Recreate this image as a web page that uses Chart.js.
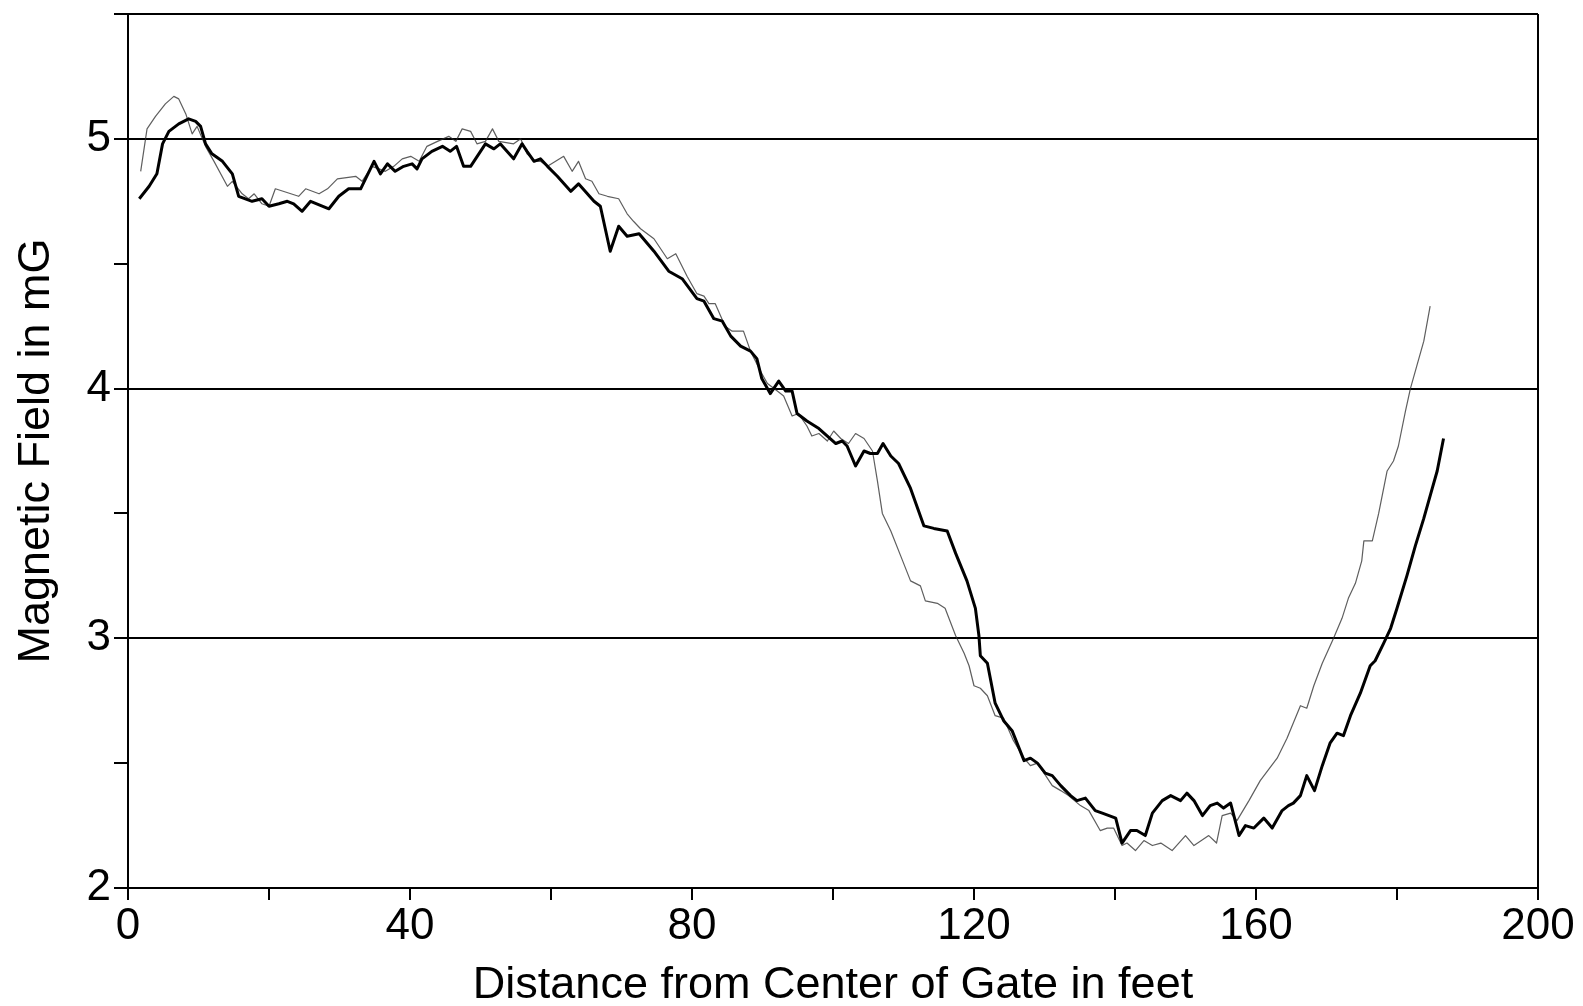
<!DOCTYPE html>
<html>
<head>
<meta charset="utf-8">
<title>Magnetic Field vs Distance from Gate</title>
<script src="https://cdn.jsdelivr.net/npm/chart.js@4.4.1/dist/chart.umd.min.js"></script>
<style>
  html, body { margin: 0; padding: 0; background: #fff; }
  #wrap { width: 1583px; height: 1006px; position: relative; }
</style>
</head>
<body>
<div id="wrap"><canvas id="chart"></canvas></div>
<script>
// Survey A (heavy trace): distance in feet and field in mG
const surveyAFeet = [
  1.6, 3.0, 4.1, 4.9, 5.8, 7.2, 8.6, 9.6, 10.3, 11.0, 11.9, 13.4, 14.8, 15.7, 17.6, 19.0, 20.0, 21.4, 22.6, 23.5,
  24.7, 25.9, 28.5, 29.9, 31.3, 33.0, 34.9, 35.8, 36.8, 37.9, 39.1, 40.3, 41.0, 41.7, 43.1, 44.6, 45.7, 46.6, 47.6, 48.6,
  50.7, 51.9, 52.8, 54.7, 55.9, 56.6, 57.6, 58.5, 59.5, 60.9, 62.8, 63.9, 66.1, 67.0, 68.4, 69.6, 70.8, 72.5, 74.6, 76.7,
  78.6, 80.7, 81.7, 83.1, 84.3, 85.5, 86.9, 88.3, 89.2, 89.9, 91.1, 92.3, 93.3, 94.2, 94.9, 96.3, 98.0, 99.2, 100.4, 101.3,
  102.0, 103.2, 104.4, 105.3, 106.3, 107.1, 108.2, 109.3, 111.0, 112.9, 114.3, 116.2, 117.4, 119.0, 120.2, 120.7, 120.9, 121.9, 123.0, 124.2,
  125.4, 127.1, 128.0, 129.0, 130.1, 131.1, 132.3, 133.7, 134.6, 135.8, 137.2, 138.2, 140.1, 141.0, 142.2, 143.1, 144.3, 145.3, 146.7, 147.9,
  149.3, 150.2, 151.2, 152.4, 153.5, 154.5, 155.4, 156.4, 157.6, 158.5, 159.7, 161.1, 162.3, 163.7, 164.6, 165.3, 166.3, 167.2, 168.3, 169.4,
  170.5, 171.5, 172.4, 173.4, 174.8, 176.2, 176.9, 178.1, 179.1, 180.0, 181.4, 182.6, 183.8, 185.0, 185.7, 186.6
];
const surveyAField = [
  4.76, 4.81, 4.86, 4.98, 5.03, 5.06, 5.08, 5.07, 5.05, 4.98, 4.94, 4.91, 4.86, 4.77, 4.75, 4.76, 4.73, 4.74, 4.75, 4.74,
  4.71, 4.75, 4.72, 4.77, 4.80, 4.80, 4.91, 4.86, 4.90, 4.87, 4.89, 4.90, 4.88, 4.92, 4.95, 4.97, 4.95, 4.97, 4.89, 4.89,
  4.98, 4.96, 4.98, 4.92, 4.98, 4.95, 4.91, 4.92, 4.89, 4.85, 4.79, 4.82, 4.75, 4.73, 4.55, 4.65, 4.61, 4.62, 4.55, 4.47,
  4.44, 4.36, 4.35, 4.28, 4.27, 4.21, 4.17, 4.15, 4.12, 4.04, 3.98, 4.03, 3.99, 3.99, 3.90, 3.87, 3.84, 3.81, 3.78, 3.79,
  3.77, 3.69, 3.75, 3.74, 3.74, 3.78, 3.73, 3.70, 3.60, 3.45, 3.44, 3.43, 3.34, 3.23, 3.12, 3.01, 2.93, 2.90, 2.74, 2.67,
  2.63, 2.51, 2.52, 2.50, 2.46, 2.45, 2.41, 2.37, 2.35, 2.36, 2.31, 2.30, 2.28, 2.18, 2.23, 2.23, 2.21, 2.30, 2.35, 2.37,
  2.35, 2.38, 2.35, 2.29, 2.33, 2.34, 2.32, 2.34, 2.21, 2.25, 2.24, 2.28, 2.24, 2.31, 2.33, 2.34, 2.37, 2.45, 2.39, 2.49,
  2.58, 2.62, 2.61, 2.69, 2.78, 2.89, 2.91, 2.98, 3.04, 3.12, 3.25, 3.37, 3.48, 3.60, 3.67, 3.80
];

// Survey B (light trace)
const surveyBFeet = [
  1.8, 2.7, 3.9, 5.3, 6.5, 7.2, 8.2, 9.1, 9.8, 11.0, 12.2, 14.1, 14.8, 16.2, 17.1, 17.9, 19.0, 20.0, 20.9, 24.2,
  25.2, 27.1, 28.3, 29.7, 32.3, 33.2, 34.6, 35.6, 36.5, 37.7, 38.9, 40.1, 41.3, 42.4, 43.9, 45.5, 46.5, 47.4, 48.6, 49.5,
  50.7, 51.7, 52.6, 54.7, 55.7, 56.6, 57.8, 58.5, 59.5, 61.8, 63.0, 63.9, 64.9, 65.8, 66.8, 68.0, 69.6, 70.8, 71.7, 72.7,
  74.6, 76.5, 77.7, 79.3, 80.7, 81.7, 82.4, 83.3, 84.7, 85.7, 87.3, 88.3, 89.7, 90.7, 92.1, 93.0, 94.2, 95.1, 96.3, 97.0,
  98.0, 99.2, 100.1, 101.1, 102.2, 103.2, 104.4, 105.6, 106.3, 107.0, 108.2, 109.6, 111.0, 112.4, 113.1, 114.8, 115.9, 117.4, 118.6, 119.3,
  120.0, 120.9, 121.9, 123.0, 124.2, 125.6, 127.1, 128.0, 129.0, 131.1, 132.3, 133.4, 135.1, 136.3, 137.9, 138.9, 139.8, 141.0, 141.7, 142.9,
  144.1, 145.3, 146.5, 148.1, 150.0, 151.2, 153.3, 154.4, 155.2, 156.4, 157.3, 159.0, 160.6, 163.0, 164.4, 166.3, 167.2, 168.2, 169.4, 171.0,
  172.2, 173.1, 174.1, 175.0, 175.3, 176.5, 177.4, 178.6, 179.5, 180.2, 181.2, 181.9, 182.8, 183.8, 184.7
];
const surveyBField = [
  4.87, 5.04, 5.09, 5.14, 5.17, 5.16, 5.10, 5.02, 5.05, 4.97, 4.91, 4.81, 4.83, 4.78, 4.76, 4.78, 4.74, 4.73, 4.80, 4.77,
  4.80, 4.78, 4.80, 4.84, 4.85, 4.83, 4.89, 4.88, 4.87, 4.89, 4.92, 4.93, 4.91, 4.97, 4.99, 5.01, 4.99, 5.04, 5.03, 4.98,
  4.99, 5.04, 4.99, 4.98, 5.00, 4.94, 4.91, 4.91, 4.89, 4.93, 4.87, 4.91, 4.84, 4.83, 4.78, 4.77, 4.76, 4.70, 4.67, 4.64,
  4.60, 4.52, 4.54, 4.45, 4.38, 4.37, 4.34, 4.34, 4.25, 4.23, 4.23, 4.15, 4.07, 4.02, 3.99, 3.97, 3.89, 3.90, 3.85, 3.81,
  3.82, 3.79, 3.83, 3.80, 3.78, 3.82, 3.80, 3.75, 3.63, 3.50, 3.43, 3.33, 3.23, 3.21, 3.15, 3.14, 3.12, 3.01, 2.94, 2.89,
  2.81, 2.80, 2.77, 2.69, 2.68, 2.59, 2.52, 2.49, 2.50, 2.41, 2.39, 2.37, 2.33, 2.31, 2.23, 2.24, 2.24, 2.17, 2.18, 2.15,
  2.19, 2.17, 2.18, 2.15, 2.21, 2.17, 2.21, 2.18, 2.29, 2.30, 2.27, 2.35, 2.43, 2.52, 2.60, 2.73, 2.72, 2.81, 2.90, 3.00,
  3.08, 3.16, 3.22, 3.31, 3.39, 3.39, 3.50, 3.67, 3.71, 3.77, 3.91, 4.00, 4.09, 4.19, 4.33
];

// Labelled tick values on each axis
const feetLabels = [0, 40, 80, 120, 160, 200];
const fieldLabels = [2, 3, 4, 5];

const FONT = "'Liberation Sans', Arial, Helvetica, sans-serif";
const CLEAR = 'rgba(0,0,0,0)';

function toPoints(xs, ys) {
  return xs.map((x, i) => ({ x: x, y: ys[i] }));
}

new Chart(document.getElementById('chart'), {
  type: 'line',
  data: {
    datasets: [
      {
        label: 'Survey A',
        data: toPoints(surveyAFeet, surveyAField),
        borderColor: '#000',
        borderWidth: 3,
        pointRadius: 0,
        tension: 0,
        borderJoinStyle: 'round'
      },
      {
        label: 'Survey B',
        data: toPoints(surveyBFeet, surveyBField),
        borderColor: 'rgba(40,40,40,0.75)',
        borderWidth: 1.2,
        pointRadius: 0,
        tension: 0,
        borderJoinStyle: 'round'
      }
    ]
  },
  options: {
    responsive: true,
    maintainAspectRatio: false,
    animation: false,
    layout: { padding: { top: 13, right: 45, left: 0, bottom: 0 } },
    plugins: {
      legend: { display: false },
      tooltip: { enabled: false }
    },
    scales: {
      x: {
        type: 'linear',
        position: 'bottom',
        min: 0,
        max: 200,
        afterFit: (scale) => { scale.height = 118 },
        ticks: {
          stepSize: 20,
          autoSkip: false,
          maxRotation: 0,
          padding: 0,
          color: '#000',
          font: { family: FONT, size: 44 },
          callback: (v) => feetLabels.includes(v) ? String(v) : ''
        },
        grid: {
          // only the right frame edge is drawn across the plot
          color: (ctx) => ctx.tick && ctx.tick.value === 200 ? '#000' : CLEAR,
          tickColor: '#000',
          lineWidth: 2,
          tickLength: 12
        },
        border: { color: '#000', width: 2 },
        title: {
          display: true,
          text: 'Distance from Center of Gate in feet',
          color: '#000',
          font: { family: FONT, size: 45, lineHeight: 0.9 },
          padding: 0
        }
      },
      y: {
        min: 2,
        max: 5.5,
        afterFit: (scale) => { scale.width = 128 },
        ticks: {
          stepSize: 0.5,
          autoSkip: false,
          padding: 3,
          color: '#000',
          font: { family: FONT, size: 44, lineHeight: 0.5 },
          callback: (v) => fieldLabels.includes(v) ? String(v) : ''
        },
        grid: {
          // whole-unit lines plus the top frame edge; half units only get a tick
          color: (ctx) => {
            const v = ctx.tick ? ctx.tick.value : 0;
            return (v % 1 === 0 || v === 5.5) ? '#000' : CLEAR;
          },
          tickColor: '#000',
          lineWidth: 2,
          tickLength: 14
        },
        border: { color: '#000', width: 2 },
        title: {
          display: true,
          text: 'Magnetic Field in mG',
          color: '#000',
          font: { family: FONT, size: 45 },
          padding: { top: 10, bottom: 0 }
        }
      }
    }
  }
});
</script>
</body>
</html>
